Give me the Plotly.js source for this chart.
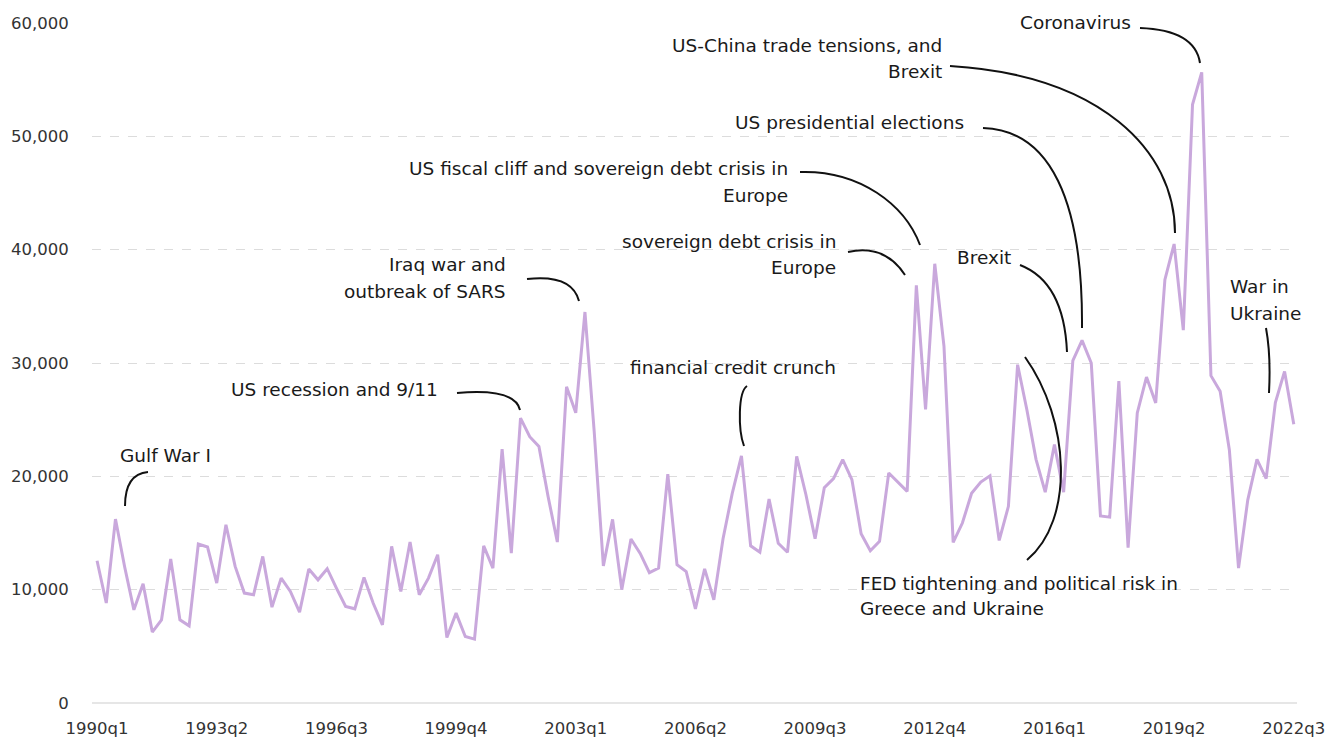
<!DOCTYPE html>
<html>
<head>
<meta charset="utf-8">
<script src="https://cdn.plot.ly/plotly-3.0.1.min.js"></script>
<style>
  html, body { margin: 0; padding: 0; background: #ffffff; }
  #chart { width: 1338px; height: 740px; }
</style>
</head>
<body>
<div id="chart"></div>
<script>
// Quarter categories 1990q1 .. 2022q3
const quarters = [];
for (let y = 1990; y <= 2022; y++) {
  for (let q = 1; q <= 4; q++) {
    if (y === 2022 && q > 3) break;
    quarters.push(y + 'q' + q);
  }
}

// Values
const values = [
  12550, 8820, 16230, 12000, 8220, 10520, 6260, 7340, 12700, 7340,
  6810, 14020, 13760, 10580, 15730, 12050, 9700, 9550, 12930, 8460,
  11020, 9840, 8020, 11820, 10870, 11850, 10140, 8520, 8310, 11080,
  8800, 6900, 13820, 9840, 14200, 9550, 11020, 13080, 5780, 7930,
  5870, 5640, 13870, 11900, 22400, 13230, 25140, 23500, 22640, 18200,
  14200, 27900, 25600, 34500, 24000, 12100, 16200, 10000, 14470, 13200,
  11500, 11900, 20200, 12200, 11600, 8300, 11840, 9100, 14500, 18500,
  21800, 13870, 13300, 18000, 14100, 13300, 21760, 18400, 14500, 19000,
  19800, 21470, 19700, 14930, 13430, 14260, 20290, 19460, 18670, 36850,
  25900, 38760, 31500, 14170, 15880, 18500, 19500, 20050, 14340, 17350,
  29850, 25900, 21500, 18600, 22800, 18600, 30200, 32000, 30000, 16500,
  16400, 28400, 13700, 25600, 28760, 26470, 37350, 40500, 32900, 52800,
  55650, 28880, 27500, 22350, 11900, 17900, 21500, 19800, 26500, 29260,
  24600
];

const tickLabels = ['1990q1','1993q2','1996q3','1999q4','2003q1','2006q2','2009q3','2012q4','2016q1','2019q2','2022q3'];
const yTicks = [0, 10000, 20000, 30000, 40000, 50000, 60000];

// Annotation texts (one entry per line)
const labels = [
  {t: 'Gulf War I', x: 118, y: 455, a: 'left'},
  {t: 'US recession and 9/11', x: 440, y: 389, a: 'right'},
  {t: 'Iraq war and', x: 508, y: 264, a: 'right'},
  {t: 'outbreak of SARS', x: 508, y: 291, a: 'right'},
  {t: 'financial credit crunch', x: 628, y: 367, a: 'left'},
  {t: 'sovereign debt crisis in', x: 838, y: 242, a: 'right'},
  {t: 'Europe', x: 838, y: 267, a: 'right'},
  {t: 'US fiscal cliff and sovereign debt crisis in', x: 790, y: 168, a: 'right'},
  {t: 'Europe', x: 790, y: 195, a: 'right'},
  {t: 'Brexit', x: 955, y: 257, a: 'left'},
  {t: 'US presidential elections', x: 733, y: 122, a: 'left'},
  {t: 'US-China trade tensions, and', x: 944, y: 46, a: 'right'},
  {t: 'Brexit', x: 944, y: 72, a: 'right'},
  {t: 'Coronavirus', x: 1018, y: 22, a: 'left'},
  {t: 'War in', x: 1228, y: 287, a: 'left'},
  {t: 'Ukraine', x: 1228, y: 313, a: 'left'},
  {t: 'FED tightening and political risk in', x: 858, y: 583, a: 'left'},
  {t: 'Greece and Ukraine', x: 858, y: 608, a: 'left'}
];

// Connector curves in pixel space
const connectors = [
  [['M',125,506],['Q',125,474,148,472]],
  [['M',457,393],['Q',515,388,520,410]],
  [['M',527,279],['Q',572,274,579,301]],
  [['M',747,386],['C',738,392,738,430,744,446]],
  [['M',848,252],['Q',885,244,905,275]],
  [['M',800,172],['C',860,170,905,205,920,245]],
  [['M',1020,265],['Q',1064,282,1067,352]],
  [['M',983,128],['C',1050,130,1083,200,1082,328]],
  [['M',950,66],['C',1100,75,1175,150,1175,233]],
  [['M',1140,28],['Q',1195,30,1200,63]],
  [['M',1266,328],['Q',1271,355,1269,393]],
  [['M',1027,560],['C',1075,520,1070,420,1025,357]]
];

const L = 92, R = 41, T = 23, B = 37, W = 1338, H = 740;
const PW = W - L - R, PH = H - T - B;
const px = x => (x - L) / PW;
const py = y => (H - B - y) / PH;

function pathStr(segs) {
  return segs.map(s => {
    const cmd = s[0];
    const pts = [];
    for (let k = 1; k < s.length; k += 2) pts.push(px(s[k]).toFixed(5) + ',' + py(s[k+1]).toFixed(5));
    return cmd + pts.join(' ');
  }).join(' ');
}

const FONT = '"DejaVu Sans", "Noto Sans", sans-serif';

const annotations = labels.map(l => ({
  text: l.t, xref: 'paper', yref: 'paper', x: px(l.x), y: py(l.y),
  xanchor: l.a, yanchor: 'middle', showarrow: false,
  font: {family: FONT, size: 18.5, color: '#1a1a1a'}
}));

const shapes = connectors.map(c => ({
  type: 'path', xref: 'paper', yref: 'paper', path: pathStr(c),
  line: {color: '#111111', width: 2}
}));

const trace = {
  type: 'scatter', mode: 'lines', x: quarters, y: values,
  line: {color: '#c9a8dc', width: 3},
  hoverinfo: 'x+y'
};

const layout = {
  width: W, height: H,
  margin: {l: L, r: R, t: T, b: B, pad: 0},
  paper_bgcolor: '#ffffff', plot_bgcolor: '#ffffff',
  font: {family: FONT, size: 16, color: '#333333'},
  showlegend: false,
  xaxis: {
    type: 'category', range: [-0.55, 130.35],
    tickmode: 'array', tickvals: tickLabels, ticktext: tickLabels,
    showgrid: false, zeroline: false, showline: false,
    ticks: 'outside', ticklen: 10, tickcolor: 'rgba(0,0,0,0)',
    tickfont: {family: FONT, size: 16.5, color: '#333333'}
  },
  yaxis: {
    range: [0, 60000], tickmode: 'array', tickvals: yTicks,
    tickformat: ',', showgrid: true, gridcolor: '#dcdcdc', griddash: 'dash', gridwidth: 1,
    zeroline: true, zerolinecolor: '#e6e6e6', zerolinewidth: 1.5, showline: false,
    ticks: 'outside', ticklen: 19, tickcolor: 'rgba(0,0,0,0)',
    tickfont: {family: FONT, size: 16.5, color: '#333333'}
  },
  annotations: annotations,
  shapes: shapes
};

Plotly.newPlot('chart', [trace], layout, {displayModeBar: false, staticPlot: true});
</script>
</body>
</html>
